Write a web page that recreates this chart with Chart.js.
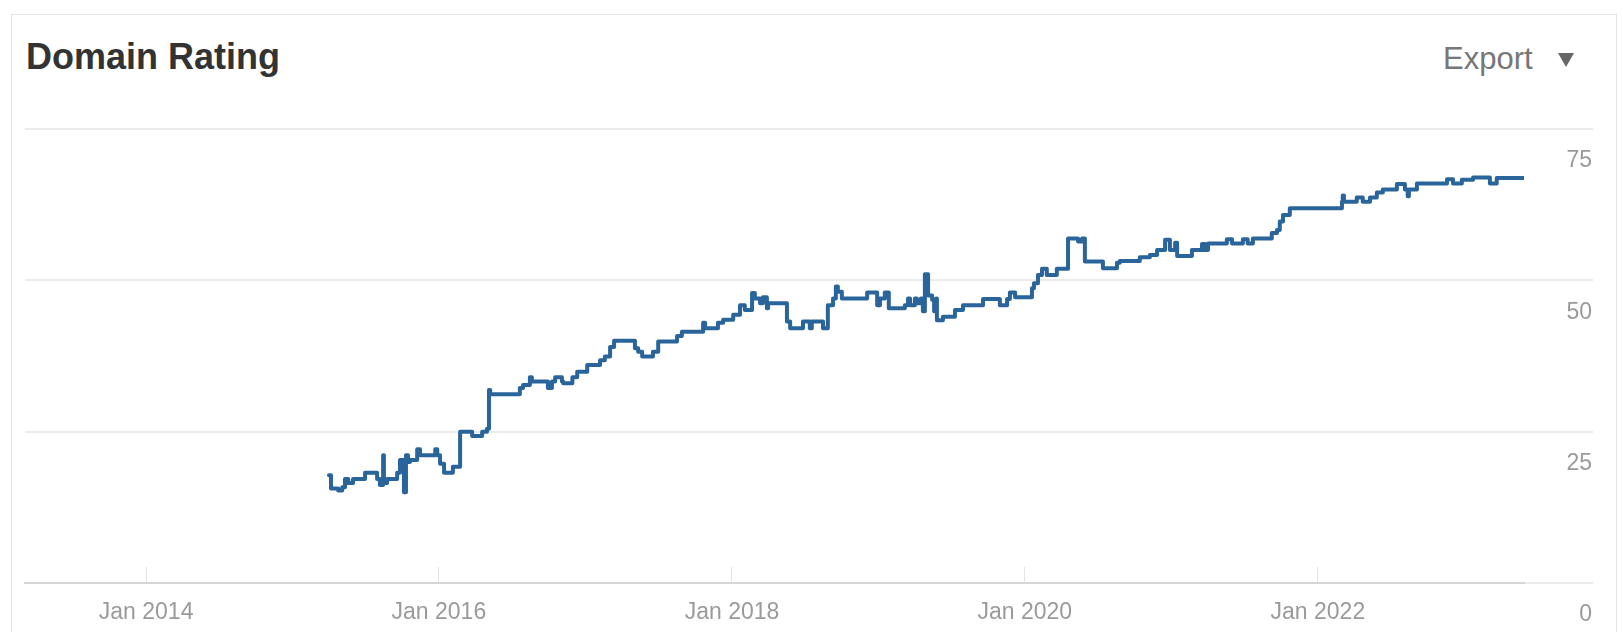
<!DOCTYPE html>
<html>
<head>
<meta charset="utf-8">
<title>Domain Rating</title>
<script src="https://cdn.jsdelivr.net/npm/chart.js@4.4.0/dist/chart.umd.min.js"></script>
<style>
  html, body { margin: 0; padding: 0; background: #fff; width: 1623px; height: 632px; overflow: hidden;
               font-family: "Liberation Sans", Arial, Helvetica, sans-serif; }
  #card { position: absolute; left: 11px; top: 14px; width: 1606px; height: 700px;
          border: 1px solid #e3e3e3; box-sizing: border-box; }
  #title { position: absolute; left: 26px; top: 39px; font-weight: bold; font-size: 36px; line-height: 36px;
           color: #333; white-space: nowrap; }
  #export { position: absolute; left: 1443px; top: 43px; font-size: 31px; line-height: 31px; color: #777;
            white-space: nowrap; }
  #caret { position: absolute; left: 1558px; top: 53px; width: 0; height: 0;
           border-left: 8px solid transparent; border-right: 8px solid transparent; border-top: 14px solid #666; }
  canvas { position: absolute; left: 0; top: 0; }
</style>
</head>
<body>
<div id="card"></div>
<div id="title">Domain Rating</div>
<div id="export">Export</div>
<div id="caret"></div>
<canvas id="chart" width="1623" height="632"></canvas>
<script>
// Domain Rating history: each value holds from its date until the next one.
const drDates = [
  '2015-04-02','2015-04-07','2015-04-25','2015-05-05','2015-05-12','2015-05-20','2015-06-01','2015-07-01',
  '2015-07-31','2015-08-07','2015-08-15','2015-08-17','2015-08-25','2015-09-19','2015-09-26','2015-10-06',
  '2015-10-11','2015-10-16','2015-10-21','2015-11-08','2015-11-15','2015-12-23','2015-12-28','2016-01-04',
  '2016-01-14','2016-02-05','2016-02-23','2016-03-24','2016-04-18','2016-04-30','2016-05-05','2016-05-08',
  '2016-07-21','2016-07-29','2016-08-15','2016-08-20','2016-09-29','2016-10-09','2016-10-17','2016-11-03',
  '2016-11-06','2016-11-29','2016-12-11','2017-01-05','2017-02-06','2017-02-18','2017-03-03','2017-03-13',
  '2017-05-04','2017-05-12','2017-05-22','2017-06-18','2017-07-01','2017-08-17','2017-08-29','2017-10-21',
  '2017-10-26','2017-11-27','2017-12-10','2018-01-04','2018-01-21','2018-02-02','2018-02-20','2018-02-27',
  '2018-03-12','2018-03-19','2018-03-29','2018-04-01','2018-05-18','2018-05-26','2018-06-27','2018-07-14',
  '2018-07-19','2018-08-16','2018-08-28','2018-09-10','2018-09-17','2018-09-22','2018-10-02','2018-12-04',
  '2018-12-29','2019-01-05','2019-01-17','2019-01-27','2019-03-08','2019-03-16','2019-03-21','2019-04-02',
  '2019-04-07','2019-04-17','2019-04-22','2019-04-27','2019-05-05','2019-05-15','2019-05-20','2019-05-25',
  '2019-05-27','2019-06-11','2019-07-11','2019-07-31','2019-09-19','2019-10-31','2019-11-18','2019-11-25',
  '2019-12-08','2020-01-19','2020-01-24','2020-02-03','2020-02-13','2020-02-25','2020-03-21','2020-04-18',
  '2020-05-13','2020-05-23','2020-05-30','2020-07-14','2020-08-18','2020-08-25','2020-10-14','2020-11-08',
  '2020-11-26','2020-12-16','2020-12-28','2021-01-10','2021-01-15','2021-02-21','2021-03-18','2021-03-25',
  '2021-04-02','2021-05-19','2021-06-01','2021-06-28','2021-07-10','2021-07-23','2021-09-08','2021-09-21',
  '2021-09-28','2021-10-06','2021-10-23','2022-03-02','2022-03-04','2022-03-07','2022-04-08','2022-04-23',
  '2022-05-11','2022-05-28','2022-06-12','2022-07-17','2022-08-06','2022-08-13','2022-08-16','2022-09-05',
  '2022-11-19','2022-12-04','2022-12-26','2023-01-23','2023-03-06','2023-03-23','2023-05-30'
];
const drValues = [
  17.8, 15.6, 15.3, 15.8, 17.2, 16.5, 17.2, 18.2,
  17.2, 16.2, 21.1, 16.5, 17.2, 18.2, 20.3, 15.0,
  21.1, 20.0, 20.3, 22.1, 21.1, 22.1, 21.1, 19.7,
  18.2, 19.2, 25.0, 24.3, 25.0, 25.5, 31.9, 31.2,
  32.2, 32.7, 34.0, 33.3, 32.2, 33.3, 34.0, 33.3,
  33.0, 34.0, 34.9, 36.0, 36.8, 37.4, 39.0, 40.0,
  38.8, 38.2, 37.4, 38.2, 39.9, 40.8, 41.5, 43.0,
  42.1, 43.0, 43.5, 44.3, 45.9, 45.1, 47.9, 47.0,
  46.2, 47.2, 45.4, 46.2, 43.2, 42.1, 43.2, 42.1,
  43.2, 42.1, 45.9, 47.0, 49.0, 48.1, 47.0, 48.0,
  45.9, 47.0, 48.0, 45.4, 45.9, 47.0, 45.9, 47.0,
  46.2, 47.0, 44.9, 51.0, 47.5, 46.8, 44.9, 47.0,
  43.4, 44.0, 45.1, 45.9, 46.9, 45.9, 46.9, 48.0,
  47.2, 48.7, 49.5, 50.9, 51.9, 50.9, 51.9, 56.9,
  56.4, 56.9, 53.1, 52.0, 52.9, 53.2, 53.8, 54.2,
  55.0, 56.7, 55.0, 56.2, 54.0, 55.0, 56.0, 55.0,
  56.1, 56.8, 56.1, 56.8, 56.1, 56.9, 57.8, 58.3,
  59.7, 60.8, 61.9, 63.0, 64.0, 63.0, 63.7, 63.0,
  63.7, 64.5, 65.0, 65.9, 65.0, 63.9, 65.0, 66.0,
  66.7, 66.0, 66.6, 67.0, 66.0, 66.9, 66.9
];

// Axis range and tick labels
const axisStart = '2013-03-05';
const axisEnd = '2023-05-30';
const tickYears = [2014, 2016, 2018, 2020, 2022];
const yTicks = [0, 25, 50, 75];

const FONT = '"Liberation Sans", Arial, Helvetica, sans-serif';
const LINE_COLOR = '#29659b';
const LABEL_COLOR = '#9a9a9a';
const LABEL_SIZE = 23;
const Y_LABEL_DROP = 32;   // y labels sit below their grid line

const points = drDates.map((d, i) => ({ x: Date.parse(d), y: drValues[i] }));

// Right-aligned value labels under each horizontal grid line, placed with the y scale.
const yLabelPlugin = {
  id: 'yLabels',
  afterDraw(chart) {
    const s = chart.scales.y;
    const c = chart.ctx;
    c.save();
    c.font = LABEL_SIZE + 'px ' + FONT;
    c.fillStyle = LABEL_COLOR;
    c.textAlign = 'right';
    c.textBaseline = 'middle';
    s.ticks.forEach((t) => c.fillText(String(t.value), s.right, s.getPixelForValue(t.value) + Y_LABEL_DROP));
    c.restore();
  }
};

new Chart(document.getElementById('chart'), {
  type: 'line',
  data: {
    datasets: [{
      label: 'Domain Rating',
      data: points,
      stepped: true,
      borderColor: LINE_COLOR,
      borderWidth: 4,
      borderJoinStyle: 'round',
      borderCapStyle: 'round',
      pointRadius: 0,
      pointHoverRadius: 0,
      fill: false
    }]
  },
  options: {
    responsive: false,
    animation: false,
    events: [],
    layout: { padding: { left: 25, right: 31, top: 129, bottom: 0 } },
    plugins: { legend: { display: false }, tooltip: { enabled: false }, title: { display: false } },
    scales: {
      x: {
        type: 'linear',
        min: Date.parse(axisStart),
        max: Date.parse(axisEnd),
        afterBuildTicks: (scale) => { scale.ticks = tickYears.map((y) => ({ value: Date.UTC(y, 0, 1) })); },
        afterFit: (scale) => { scale.height = 49; },
        grid: { drawOnChartArea: false, drawTicks: true, tickLength: -16, color: '#e3e3e3', lineWidth: 1 },
        border: { display: true, color: '#d5d5d5', width: 2 },
        ticks: {
          autoSkip: false, maxRotation: 0, minRotation: 0, padding: 32,
          color: LABEL_COLOR, font: { family: FONT, size: LABEL_SIZE },
          callback: (v) => 'Jan ' + new Date(v).getUTCFullYear()
        }
      },
      y: {
        position: 'right',
        min: 0,
        max: 75,
        afterBuildTicks: (scale) => { scale.ticks = yTicks.map((v) => ({ value: v })); },
        afterFit: (scale) => { scale.width = 68; },
        grid: { color: '#ebebeb', lineWidth: 2, drawTicks: true, tickLength: 69 },
        border: { display: false },
        ticks: { display: false }
      }
    }
  },
  plugins: [yLabelPlugin]
});
</script>
</body>
</html>
